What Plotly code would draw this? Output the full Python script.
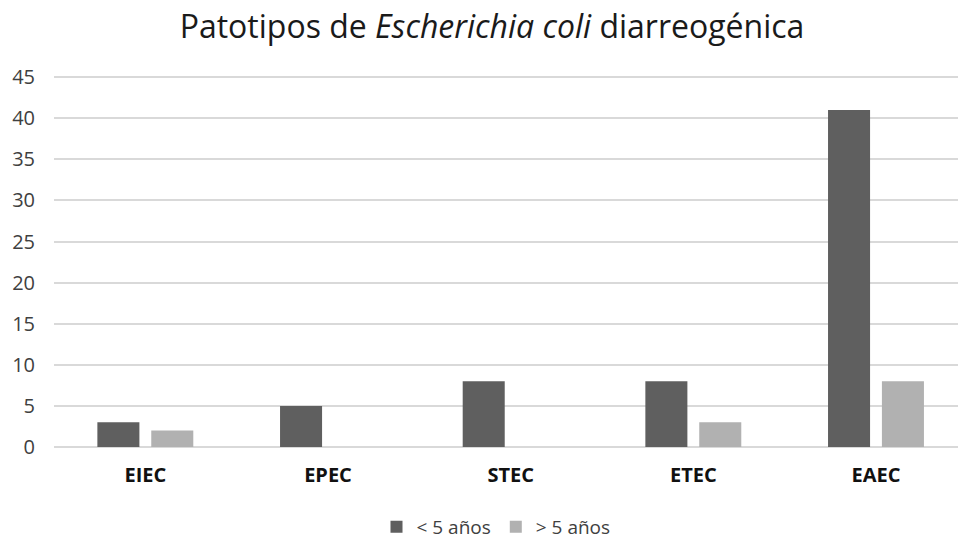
import plotly.graph_objects as go

categories = ["EIEC", "EPEC", "STEC", "ETEC", "EAEC"]
menor_5 = [3, 5, 8, 8, 41]
mayor_5 = [2, 0, 0, 3, 8]
y_ticks = [0, 5, 10, 15, 20, 25, 30, 35, 40, 45]

fig = go.Figure()
fig.add_trace(go.Bar(x=categories, y=menor_5, name="< 5 años",
                     marker=dict(color="#5f5f5f", line=dict(width=0))))
fig.add_trace(go.Bar(x=categories, y=mayor_5, name="> 5 años",
                     marker=dict(color="#b1b1b1", line=dict(width=0))))

fig.update_layout(
    width=958, height=540,
    margin=dict(l=54, r=0, t=76, b=93, autoexpand=False),
    paper_bgcolor="white", plot_bgcolor="white",
    barmode="group", bargap=0.41, bargroupgap=0.22,
    title=dict(text="Patotipos de <i>Escherichia coli</i> diarreogénica",
               x=492/958, xanchor="center", y=1-27/540, yanchor="middle",
               font=dict(family="Open Sans", size=32, color="#1a1a1a")),
    font=dict(family="Open Sans", color="#404040"),
    showlegend=True,
    legend=dict(orientation="h", x=496/958, xanchor="center",
                xref="container", yref="container", y=1-527/540, yanchor="middle",
                font=dict(size=19, color="#404040"), itemwidth=30,
                traceorder="normal"),
)
fig.update_xaxes(range=[-0.5, 4.449], showgrid=False, showline=False, automargin=False,
                 ticks="", tickfont=dict(size=20, color="#111111", family="Open Sans"),
                 tickprefix="<b>", ticksuffix="</b>", ticklabelstandoff=14)
fig.update_yaxes(range=[0, 45.15], tickvals=y_ticks, showgrid=True, automargin=False,
                 gridcolor="#d9d9d9", gridwidth=1.5, zeroline=True,
                 zerolinecolor="#d9d9d9", zerolinewidth=1.5,
                 tickfont=dict(size=20, color="#404040", family="Open Sans"),
                 ticklabelstandoff=18)

fig.write_html("out.html", config={"displayModeBar": False},
               post_script="document.body.style.margin='0';document.body.style.overflow='hidden';")
